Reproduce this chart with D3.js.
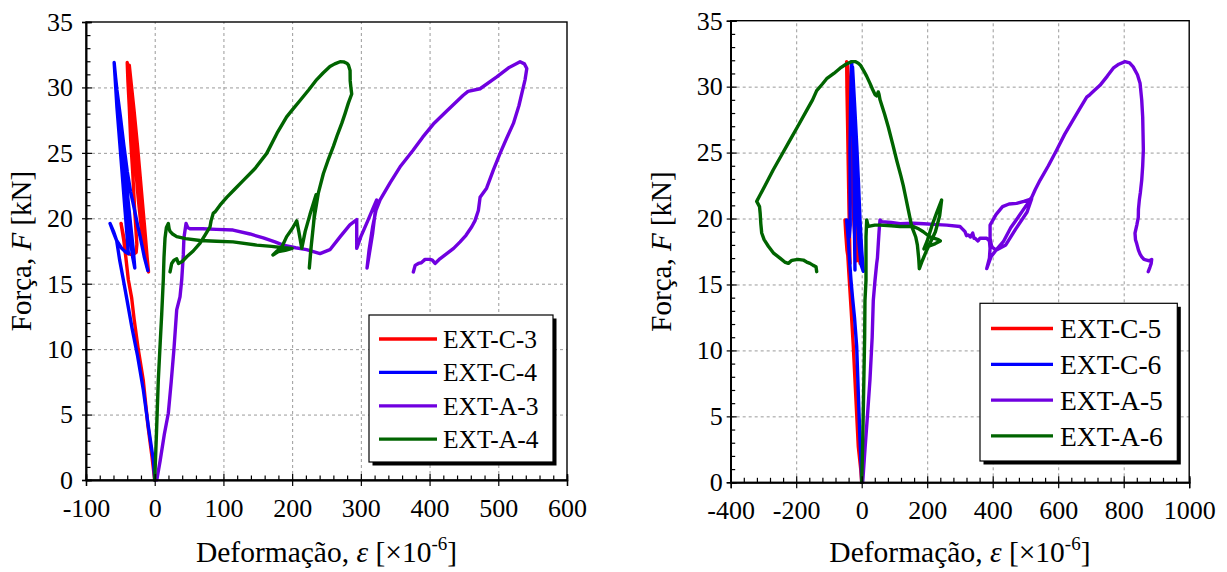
<!DOCTYPE html>
<html><head><meta charset="utf-8">
<script src="https://cdn.jsdelivr.net/npm/d3@7"></script>
<style>html,body{margin:0;padding:0;background:#fff;}svg{display:block;}</style>
</head><body>
<svg id="chart" width="1227" height="572"></svg>
<script>
// ---------- DATA ----------
const yTicks = [0, 5, 10, 15, 20, 25, 30, 35];
const xTicksLeft = [-100, 0, 100, 200, 300, 400, 500, 600];
const xTicksRight = [-400, -200, 0, 200, 400, 600, 800, 1000];
const namesLeft = ["EXT-C-3", "EXT-C-4", "EXT-A-3", "EXT-A-4"];
const namesRight = ["EXT-C-5", "EXT-C-6", "EXT-A-5", "EXT-A-6"];
const seriesColors = ["#ff0000", "#0000ff", "#7000e0", "#006400"];

// [strain (x10^-6), force (kN)]
const extC3 = [[0,0],[-4,1.8],[-10,4.2],[-16.6,7.6],[-24,10],[-30,12.3],[-33.5,13.9],[-38.4,15.3],[-42,17],[-45,18.3],[-49,19.6],[-46,18.8],[-43,18],[-38.4,17.3],[-32,17.2],[-27,17.4],[-26,18],[-29,20.5],[-32,23.5],[-35,26],[-37,28.5],[-39,30.5],[-40,31.9],[-38.5,31],[-36,29],[-32,26.5],[-28,24],[-24,21.5],[-20,19.5],[-16,17.8],[-12,16.6],[-9,15.9],[-11,17],[-15,19.5],[-20,22.5],[-25,25.5],[-30,28.2],[-34,30.2],[-37,31.7],[-35,30],[-31,27.5],[-26,24.5],[-21,21.5],[-17,19],[-13,17],[-10,16.2]];
const extC4 = [[0,0],[-2,1.5],[-9,4],[-16.6,6.9],[-25,9.5],[-33,11.6],[-40.8,13.9],[-46,15.4],[-51,16.8],[-55.4,18.3],[-60,19],[-65,19.6],[-60,18.9],[-55.4,18.3],[-48,17.7],[-42,17.4],[-38.4,17.3],[-40,18.5],[-43,20.5],[-46,22.5],[-49,24.5],[-52,26.5],[-55,28.5],[-57,30.2],[-59,31.9],[-57,30.8],[-54,29],[-50,26.8],[-46,24.5],[-42,22],[-39,20.3],[-35,18.2],[-32,17],[-29,16.2],[-31,17.5],[-35,19.5],[-39,21.5],[-43,23.5],[-47,25.5],[-51,27.5],[-55,29.5],[-58,31.3],[-55,29.8],[-50,27.8],[-45,25.6],[-40,23.6],[-35,22],[-30,20.8],[-25,19.5],[-20,18.3],[-15,17],[-10,16]];
const extA3 = [[3,0],[8,1.5],[14,3.5],[19.8,5.1],[24,7.5],[28,10],[32,13],[36.8,14],[39.3,15.3],[41.6,17.2],[42.5,18.5],[45.6,19.6],[48,19.3],[51.4,19.2],[70,19.2],[90,19.15],[114,19.1],[138.7,18.8],[158,18.5],[175,18.2],[187,17.95],[205,17.75],[221,17.6],[240.6,17.3],[255,17.6],[270,18.6],[284,19.5],[294,19.9],[294,17.7],[300,18.6],[310,19.8],[318,20.8],[323,21.4],[317,18.8],[309,16.2],[312,17.6],[317,19.3],[322,20.6],[328,21.4],[342.5,22.7],[358,24],[376,25.2],[390,26.2],[405.5,27.2],[425,28.2],[449,29.4],[456,29.7],[473.5,29.9],[497.8,30.8],[515,31.5],[531.7,31.96],[538,31.8],[541.5,31.45],[539,30.6],[536.5,30.05],[530,28.6],[522,27.25],[512,26.1],[502.6,24.96],[492.9,23.7],[483,22.3],[473.5,21.6],[471,20.6],[466,19.8],[461.4,19.35],[453,18.7],[444.4,18.2],[435,17.7],[425,17.3],[415,16.9],[408,16.55],[404,16.8],[400.7,16.86],[393.4,16.86],[388,16.6],[383.7,16.55],[379,16.4],[376.4,15.9]];
const extA4 = [[0,0],[2.5,3.5],[5.2,7.6],[8,10.5],[10.2,12.7],[12.5,15.3],[13.5,17],[15,18.5],[17,19.3],[19.8,19.6],[21,19.2],[22.3,19.0],[26,18.8],[32,18.6],[45,18.45],[66,18.3],[90,18.25],[114,18.2],[148.5,17.95],[170,17.85],[187,17.75],[200,17.7],[190,17.55],[180,17.45],[172,17.2],[178,17.5],[185,17.8],[192,18.6],[200,19.2],[206.7,19.8],[210,18.9],[214,17.7],[219,19],[226,20.3],[234.8,21.8],[231,19.5],[227,17.5],[225,16.2],[228,18],[232,20],[238,21.9],[245.4,23.4],[252,24.4],[260,25.5],[266,26.4],[272.2,27.25],[277,28],[281.8,28.8],[286.7,29.5],[285.5,30],[284.5,30.5],[284.3,31.3],[282,31.7],[279.5,31.85],[275,31.95],[269.7,31.96],[262,31.8],[255,31.6],[245,31.1],[235.8,30.6],[224,29.8],[211.5,29.0],[202,28.4],[192,27.75],[178,26.5],[163,24.96],[146,23.8],[129,22.9],[116,22.2],[104.8,21.6],[95,21.0],[88,20.5],[85.3,20.4],[82,19.8],[80.5,19.35],[73,18.7],[66,18.1],[56,17.5],[46.6,17.06],[40,16.7],[34.6,16.55],[32,16.9],[28,16.8],[24.7,16.55],[22.3,15.9]];

const extC5 = [[0,0],[-3,1],[-10.4,2.7],[-18,6.5],[-25.6,10.3],[-32,13],[-37.8,15.3],[-42,17],[-45,18.3],[-48,19.2],[-51,19.9],[-48.5,18.8],[-45,17.6],[-40,16.8],[-35.7,16.6],[-37,18.5],[-39,21],[-41,24],[-43,27],[-45,29.8],[-46,31.9],[-44,30.5],[-41,28.5],[-37,26],[-32,23.5],[-27,21],[-22,19],[-18,17.6],[-15,16.8],[-18,18.8],[-23,21.5],[-28,24.5],[-33,27],[-38,29.5],[-43,31.6],[-39,30],[-34,27.5],[-28,24.5],[-22,21.5],[-16,19.3],[-10,17.6],[-5,16.6]];
const extC6 = [[0,0],[-1.5,1.2],[-5.2,3.2],[-10,6.5],[-15.3,10.3],[-22,12.5],[-28,14],[-32.7,15.3],[-37,16.8],[-41,18.4],[-46,19.9],[-42,19.2],[-38,18.6],[-35,19.5],[-35.5,22],[-35.7,25.2],[-34,28.5],[-31,31.9],[-27,30.3],[-22,27.8],[-17,25],[-12,22],[-7,19.5],[-3,17.5],[0,16.5],[-5,17.5],[-12,19.5],[-20,23],[-25,26.5],[-29,30],[-30.5,31.8],[-26,29],[-20,24.5],[-14,20.5],[-8,18],[-2,16.5],[4.9,16.0],[0,17.6],[-5,19.8],[-10,22.8],[-15,25.5],[-22,28.8],[-28,31.5],[-25,28.5],[-24,24],[-23,20.5],[-21.5,18],[-20.5,16.1]];
const extA5 = [[3,0],[10,2.5],[18,5.2],[25.3,7.8],[32,11],[35.4,13.8],[40.6,15.3],[45.8,16.6],[48,17],[50.7,18.1],[53,19],[55.9,19.9],[61,19.76],[90,19.7],[117,19.6],[157.6,19.64],[190,19.6],[218.6,19.56],[259.5,19.5],[300,19.4],[308,19.2],[315.4,19.0],[320,18.7],[325.6,18.75],[332,18.6],[339,18.9],[343,18.5],[346,18.5],[355,18.3],[361,18.5],[372,18.5],[381.7,18.5],[390,18.3],[392,17.74],[390,17],[381.7,16.2],[395,17.1],[410,17.6],[432.4,18.24],[455,19.3],[483.4,20.3],[500,20.9],[519,21.5],[505,20.5],[470,19.2],[440,18],[410,17.6],[397,17.86],[392,18.5],[392,19.5],[410,20.3],[430,20.9],[450,21.1],[473,21.15],[495,21.3],[514,21.45],[519,21.6],[530,22.2],[544.4,22.9],[570,24],[595.4,25.2],[620,26.4],[646,27.5],[665,28.3],[687,29.2],[697,29.4],[710,29.7],[727.6,30.1],[750,30.8],[768,31.4],[785,31.7],[804,31.9],[818,31.8],[829,31.5],[842,30.9],[850,30.25],[855,29],[858,27.7],[859,26.5],[860,25.2],[858,24],[855,22.9],[851,22],[847.7,21.4],[845,20.7],[844.6,20.1],[840,19.5],[834.5,18.9],[836,18.4],[839.7,18.1],[845,17.6],[850,17.3],[855,17.1],[862,16.9],[870,16.85],[878,16.8],[885.5,16.9],[884,16.6],[880,16.3],[875,15.97]];
const extA6 = [[0,0],[3,3],[6,7],[9,11],[10,13.8],[13.1,15.3],[13.1,18.6],[15.3,19.9],[18,19.6],[20.4,19.4],[40,19.5],[56,19.5],[90,19.45],[117,19.4],[157.6,19.4],[175,19.2],[188,19.0],[208.5,18.6],[234,18.4],[240,18.3],[225,18.1],[205,17.9],[190,17.7],[200,18.3],[215,19.5],[230,20.5],[244,21.4],[238,20.2],[225,19.0],[210,18.2],[195,17.4],[185,16.8],[176,16.2],[174,17],[170,18],[165,18.6],[152.7,19.4],[142,20.7],[132,21.9],[127,22.5],[120,23.2],[107,24.4],[95,25.6],[81,26.96],[70,27.9],[56,29.0],[53,29.4],[50.7,29.6],[46,29.3],[40.6,29.4],[33,29.8],[25.3,30.25],[15,30.8],[5,31.26],[-3,31.6],[-10.4,31.77],[-20,31.9],[-30.5,31.9],[-48,31.7],[-66,31.4],[-85,31.0],[-107,30.6],[-120,30.2],[-137.4,29.7],[-150,29.0],[-168,28.2],[-195,27],[-219,25.95],[-245,24.8],[-270,23.7],[-295,22.5],[-310,21.8],[-320.6,21.3],[-312,20.9],[-310,20.4],[-308,19.6],[-305.3,18.9],[-298,18.4],[-285,17.9],[-270,17.4],[-249.5,17.0],[-235,16.7],[-224,16.6],[-215,16.8],[-208.7,16.85],[-195,16.9],[-178.3,16.85],[-168,16.7],[-157.9,16.6],[-148,16.45],[-139.5,16.35],[-137.4,15.97]];

// ---------- DRAW ----------
const FONT = "'Liberation Serif','Times New Roman',serif";
const svg = d3.select("#chart");

function panel(o) {
  const x = d3.scaleLinear().domain(o.xDomain).range([o.x0, o.x1]);
  const y = d3.scaleLinear().domain([0, 35]).range([o.y1, o.y0]);
  const g = svg.append("g");
  const W = o.x1 - o.x0, H = o.y1 - o.y0;
  const xMajorStep = o.xTicks[1] - o.xTicks[0];
  const xMinor = d3.range(o.xDomain[0], o.xDomain[1] + 1e-6, o.minorStep).filter(v => Math.abs(v % xMajorStep) > 1e-6);
  const yMinor = d3.range(0, 35.0001, 1).filter(v => v % 5 !== 0);

  // grid
  const gx = g.append("g").attr("transform", `translate(0,${o.y1})`)
    .call(d3.axisBottom(x).tickValues(o.xTicks.filter(v => v !== o.xDomain[0] && v !== o.xDomain[1])).tickSize(-H).tickFormat(""));
  const gy = g.append("g").attr("transform", `translate(${o.x0},0)`)
    .call(d3.axisLeft(y).tickValues(yTicks.filter(v => v !== 0 && v !== 35)).tickSize(-W).tickFormat(""));
  [gx, gy].forEach(a => {
    a.select(".domain").remove();
    a.selectAll("line").attr("stroke", "#9a9a9a").attr("stroke-width", 1).attr("stroke-dasharray", "3,3");
  });

  // series
  const line = d3.line().x(d => x(d[0])).y(d => y(d[1]));
  o.series.forEach((s, i) => {
    g.append("path").datum(s).attr("d", line).attr("fill", "none")
      .attr("stroke", seriesColors[i]).attr("stroke-width", 3.4)
      .attr("stroke-linejoin", "round").attr("stroke-linecap", "round");
  });

  // frame
  g.append("rect").attr("x", o.x0).attr("y", o.y0).attr("width", W).attr("height", H)
    .attr("fill", "none").attr("stroke", "#000").attr("stroke-width", 1.4);

  // axes: major (outside part + labels)
  const ax = g.append("g").attr("transform", `translate(0,${o.y1})`)
    .call(d3.axisBottom(x).tickValues(o.xTicks).tickSize(6).tickPadding(12.5).tickFormat(d => String(d)));
  const ay = g.append("g").attr("transform", `translate(${o.x0},0)`)
    .call(d3.axisLeft(y).tickValues(yTicks).tickSize(4).tickPadding(o.yPad).tickFormat(d => String(d)));
  // major inside part
  const axi = g.append("g").attr("transform", `translate(0,${o.y1})`)
    .call(d3.axisBottom(x).tickValues(o.xTicks).tickSize(-6).tickFormat(""));
  const ayi = g.append("g").attr("transform", `translate(${o.x0},0)`)
    .call(d3.axisLeft(y).tickValues(yTicks).tickSize(-6).tickFormat(""));
  // minor inside
  const axm = g.append("g").attr("transform", `translate(0,${o.y1})`)
    .call(d3.axisBottom(x).tickValues(xMinor).tickSize(-4.5).tickFormat(""));
  const aym = g.append("g").attr("transform", `translate(${o.x0},0)`)
    .call(d3.axisLeft(y).tickValues(yMinor).tickSize(-4.5).tickFormat(""));
  [ax, ay, axi, ayi, axm, aym].forEach(a => {
    a.select(".domain").attr("stroke", "#000").attr("stroke-width", 1.4);
    a.selectAll("line").attr("stroke", "#000").attr("stroke-width", 1.2);
    a.selectAll("text").attr("font-family", FONT).attr("font-size", 26).attr("fill", "#000");
  });

  // axis titles
  const xt = g.append("text").attr("x", (o.x0 + o.x1) / 2).attr("y", 562)
    .attr("text-anchor", "middle").attr("font-family", FONT).attr("font-size", 29.5).attr("fill", "#000");
  xt.append("tspan").text("Deformação, ");
  xt.append("tspan").attr("font-style", "italic").text("ε");
  xt.append("tspan").text(" [×10");
  xt.append("tspan").attr("font-size", 19).attr("dy", -12).text("-6");
  xt.append("tspan").attr("dy", 12).text("]");

  const cy = (o.y0 + o.y1) / 2;
  const yt = g.append("text").attr("transform", `translate(${o.yTitleX},${cy}) rotate(-90)`)
    .attr("text-anchor", "middle").attr("font-family", FONT).attr("font-size", 29).attr("fill", "#000");
  yt.append("tspan").text("Força, ");
  yt.append("tspan").attr("font-style", "italic").text("F");
  yt.append("tspan").text(" [kN]");

  // legend
  const L = o.legend;
  const lg = g.append("g");
  lg.append("rect").attr("x", L.x + 3.5).attr("y", L.y + 3.5).attr("width", L.w).attr("height", L.h).attr("fill", "#000");
  lg.append("rect").attr("x", L.x).attr("y", L.y).attr("width", L.w).attr("height", L.h)
    .attr("fill", "#fff").attr("stroke", "#000").attr("stroke-width", 1.2);
  o.names.forEach((n, i) => {
    const ry = L.rowY0 + i * L.rowDy;
    lg.append("line").attr("x1", L.lx1).attr("x2", L.lx2).attr("y1", ry).attr("y2", ry)
      .attr("stroke", seriesColors[i]).attr("stroke-width", 3.3);
    lg.append("text").attr("x", L.tx).attr("y", ry + L.fs * 0.35).attr("font-family", FONT)
      .attr("font-size", L.fs).attr("fill", "#000").text(n);
  });
}

panel({
  x0: 86, x1: 567, y0: 22, y1: 480, xDomain: [-100, 600], xTicks: xTicksLeft, minorStep: 20,
  series: [extC3, extC4, extA3, extA4], names: namesLeft, yPad: 9, yTitleX: 31,
  legend: { x: 369, y: 315, w: 184, h: 147, lx1: 379, lx2: 437, tx: 443, rowY0: 339, rowDy: 33.4, fs: 25.5 }
});
panel({
  x0: 730.7, x1: 1189.2, y0: 20.7, y1: 482.3, xDomain: [-400, 1000], xTicks: xTicksRight, minorStep: 40,
  series: [extC5, extC6, extA5, extA6], names: namesRight, yPad: 4, yTitleX: 671,
  legend: { x: 980, y: 303.3, w: 197.3, h: 157.7, lx1: 991, lx2: 1053, tx: 1060, rowY0: 328.5, rowDy: 35.8, fs: 27.5 }
});
</script>
</body></html>
